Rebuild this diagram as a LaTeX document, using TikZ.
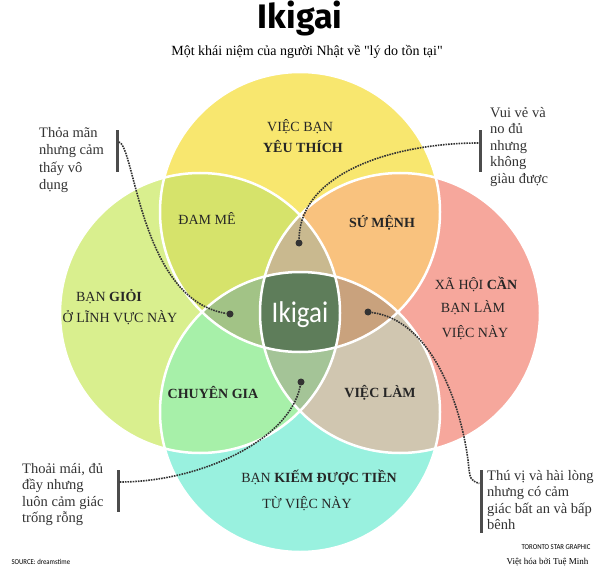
\documentclass[tikz,border=0pt]{standalone}
\usepackage{fontspec}
\setmainfont{Liberation Serif}
\newfontfamily\subfont{Liberation Serif}
\newfontfamily\titlefont{Fira Sans}
\newfontfamily\labelsans[FakeStretch=0.9]{Carlito}
\usepackage{xcolor}
\usepackage{tikz}
\usetikzlibrary{positioning}

\definecolor{yeuthich}{HTML}{F8E76F}
\definecolor{gioi}{HTML}{D9EF8E}
\definecolor{xahoi}{HTML}{F6A79C}
\definecolor{tien}{HTML}{99F1DF}
\definecolor{damme}{HTML}{D6E36B}
\definecolor{sumenh}{HTML}{F9C27E}
\definecolor{chuyengia}{HTML}{A7F0A9}
\definecolor{vieclam}{HTML}{D0C6B0}
\definecolor{topmid}{HTML}{C9B98F}
\definecolor{leftmid}{HTML}{A2C386}
\definecolor{rightmid}{HTML}{C9A27D}
\definecolor{botmid}{HTML}{A4C497}
\definecolor{ikigaic}{HTML}{5E7D5A}

\tikzset{
  region/.style={font=\fontsize{14}{16}\selectfont, anchor=base, text=black!85, inner sep=0pt},
  note/.style={font=\fontsize{14.5}{16.5}\selectfont, align=left, anchor=north west, text=black!80, inner sep=0pt},
  bar/.style={fill=black!70, minimum width=3pt, minimum height=42pt, inner sep=0pt},
  pin/.style={circle, fill=black!80, inner sep=0pt, minimum size=7pt},
  link/.style={densely dotted, line width=1.6pt, black!80}
}

\begin{document}
\begin{tikzpicture}[x=1pt, y=-1pt]
        \fill[white] (0,0) rectangle (600,567);
        \useasboundingbox (0,0) rectangle (600,567);
        \def\rad{140pt}
        \coordinate (cT) at (300,212);
        \coordinate (cL) at (200,313);
        \coordinate (cR) at (400,313);
        \coordinate (cB) at (300,412);

        % the four circles
        \fill[yeuthich] (cT) circle[radius=\rad];
        \fill[gioi] (cL) circle[radius=\rad];
        \fill[xahoi] (cR) circle[radius=\rad];
        \fill[tien] (cB) circle[radius=\rad];

        % overlaps of two
        \begin{scope}
          \clip (cT) circle[radius=\rad];
          \fill[damme] (cL) circle[radius=\rad];
          \fill[sumenh] (cR) circle[radius=\rad];
        \end{scope}
        \begin{scope}
          \clip (cB) circle[radius=\rad];
          \fill[chuyengia] (cL) circle[radius=\rad];
          \fill[vieclam] (cR) circle[radius=\rad];
        \end{scope}

        % overlaps of three
        \begin{scope}
          \clip (cT) circle[radius=\rad];
          \clip (cB) circle[radius=\rad];
          \fill[leftmid] (cL) circle[radius=\rad];
          \fill[rightmid] (cR) circle[radius=\rad];
        \end{scope}
        \begin{scope}
          \clip (cL) circle[radius=\rad];
          \clip (cR) circle[radius=\rad];
          \fill[topmid] (cT) circle[radius=\rad];
          \fill[botmid] (cB) circle[radius=\rad];
          % all four
          \clip (cT) circle[radius=\rad];
          \fill[ikigaic] (cB) circle[radius=\rad];
        \end{scope}

        \foreach \c in {cT,cL,cR,cB}
          \draw[white, line width=2.5pt] (\c) circle[radius=\rad];

        % title
        \node[anchor=base, font=\titlefont\bfseries\fontsize{34}{36}\selectfont] (title) at (300,29) {Ikigai};
        \node[anchor=base, font=\subfont\fontsize{14}{16}\selectfont] (subtitle) at (307,56) {Một khái niệm của người Nhật về "lý do tồn tại"};

        % labels
        \node[region] (yeu1) at (300,132) {VIỆC BẠN};
        \node[region] (yeu2) at (303,153) {\textbf{YÊU THÍCH}};
        \node[region] (dam) at (207,225) {ĐAM MÊ};
        \node[region] (sumenhl) at (382,227) {\textbf{SỨ MỆNH}};
        \node[region] (gioi1) at (109,301) {BẠN \textbf{GIỎI}};
        \node[region] (gioi2) at (120,322) {Ở LĨNH VỰC NÀY};
        \node[region] (can1) at (476,289) {XÃ HỘI \textbf{CẦN}};
        \node[region] (can2) at (473,312) {BẠN LÀM};
        \node[region] (can3) at (475,337) {VIỆC NÀY};
        \node[region] (chuyen) at (213,398) {\textbf{CHUYÊN GIA}};
        \node[region] (lam) at (380,397) {\textbf{VIỆC LÀM}};
        \node[region] (tien1) at (319,482) {BẠN \textbf{KIẾM ĐƯỢC TIỀN}};
        \node[region] (tien2) at (307,508) {TỪ VIỆC NÀY};
        \node[anchor=base, text=white, font=\labelsans\fontsize{30}{32}\selectfont] (ikigai) at (300,322) {Ikigai};

        % notes
        \node[note, font=\fontsize{14.5}{17.5}\selectfont] (note1) at (39,127) {Thỏa mãn\\nhưng cảm\\thấy vô\\dụng};
        \node[note] (note2) at (490,107) {Vui vẻ và\\no đủ\\nhưng\\không\\giàu được};
        \node[note] (note3) at (22,463) {Thoải mái, đủ\\đầy nhưng\\luôn cảm giác\\trống rỗng};
        \node[note] (note4) at (487,470) {Thú vị và hài lòng\\nhưng có cảm\\giác bất an và bấp\\bênh};

        \node[bar] (bar1) at (117,151) {};
        \node[bar] (bar2) at (480,151) {};
        \node[bar] (bar3) at (118,491) {};
        \node[bar, minimum height=63pt] (bar4) at (481,501.5) {};

        \node[pin] (pin1) at (230,314) {};
        \node[pin] (pin2) at (299,243) {};
        \node[pin] (pin3) at (301,382) {};
        \node[pin] (pin4) at (368,312) {};

        \draw[link] ([yshift=9pt]bar1.east) .. controls (135,145) and (140,300) .. (pin1);
        \draw[link] ([yshift=8pt]bar2.west) .. controls (400,143) and (300,170) .. (pin2);
        \draw[link] ([yshift=9pt]bar3.east) .. controls (200,482) and (290,440) .. (pin3);
        \draw[link] (pin4) .. controls (430,320) and (460,400) .. (468,460)
                    .. controls (470,480) .. ([yshift=18pt]bar4.west);

        % credits
        \node[anchor=base west, font=\labelsans\fontsize{7.5}{9}\selectfont] (source) at (8,564) {SOURCE: dreamstime};
        \node[anchor=base east, font=\labelsans\fontsize{7.5}{9}\selectfont] (toronto) at (594,549) {TORONTO STAR GRAPHIC};
        \node[anchor=base east, font=\fontsize{9}{10}\selectfont] (viethoa) at (592,564) {Việt hóa bởi Tuệ Minh};
      \end{tikzpicture}
\end{document}
